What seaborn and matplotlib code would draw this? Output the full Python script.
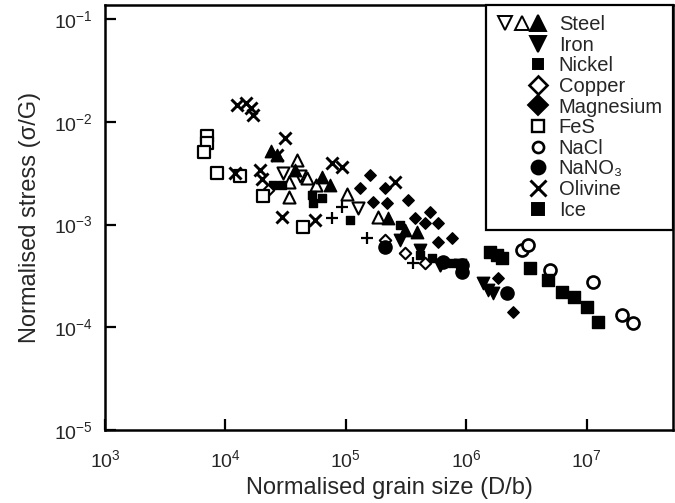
import numpy as np
import pandas as pd
import matplotlib
matplotlib.use('Agg')
import matplotlib.pyplot as plt
import seaborn as sns
from matplotlib.lines import Line2D
from matplotlib.legend_handler import HandlerTuple

# values: normalised grain size D/b and normalised stress sigma/G
steel_open_down_x = [3.0e4, 4.15e4, 1.26e5, 6.0e5]
steel_open_down_y = [3.17e-3, 3.0e-3, 1.45e-3, 4.0e-4]
steel_open_up_x = [3.9e4, 3.4e4, 3.4e4, 4.8e4, 5.7e4, 1.02e5, 1.85e5]
steel_open_up_y = [4.25e-3, 2.6e-3, 1.85e-3, 2.84e-3, 2.4e-3, 2.0e-3, 1.18e-3]
steel_filled_x = [2.67e4, 2.39e4, 3.77e4, 6.3e4, 7.4e4, 2.23e5, 3.09e5, 3.88e5]
steel_filled_y = [4.7e-3, 5.2e-3, 3.4e-3, 2.9e-3, 2.4e-3, 1.16e-3, 8.8e-4, 8.4e-4]
iron_x = [1.37e6, 1.51e6, 1.66e6, 8.8e5, 4.1e5, 2.8e5]
iron_y = [2.7e-4, 2.3e-4, 2.15e-4, 4.0e-4, 5.65e-4, 7.1e-4]
nickel_x = [2.48e4, 2.94e4, 5.2e4, 6.3e4, 1.08e5, 5.3e4, 2.8e5, 4.1e5, 7.6e5, 5.2e5]
nickel_y = [2.4e-3, 2.4e-3, 1.94e-3, 1.81e-3, 1.1e-3, 1.62e-3, 9.9e-4, 5.0e-4, 4.2e-4, 4.7e-4]
copper_x = [3.09e5, 4.5e5, 2.25e4, 2.1e5]
copper_y = [5.3e-4, 4.2e-4, 2.17e-3, 7.1e-4]
magnesium_x = [1.58e5, 1.31e5, 2.1e5, 3.27e5, 1.67e5, 2.19e5, 4.98e5, 3.74e5,
               5.8e5, 4.5e5, 7.6e5, 5.8e5, 1.82e6, 2.43e6]
magnesium_y = [3.03e-3, 2.27e-3, 2.27e-3, 1.73e-3, 1.66e-3, 1.62e-3, 1.32e-3, 1.16e-3,
               1.03e-3, 1.03e-3, 7.4e-4, 6.8e-4, 3.0e-4, 1.4e-4]
fes_x = [7.0e3, 7.0e3, 6.6e3, 8.5e3, 1.32e4, 2.05e4, 4.4e4]
fes_y = [7.3e-3, 6.2e-3, 5.1e-3, 3.2e-3, 3.0e-3, 1.9e-3, 9.5e-4]
nacl_x = [2.89e6, 3.24e6, 4.93e6, 1.12e7, 1.95e7, 2.41e7]
nacl_y = [5.65e-4, 6.3e-4, 3.6e-4, 2.75e-4, 1.31e-4, 1.1e-4]
nano3_x = [2.1e5, 6.4e5, 9.2e5, 9.2e5, 2.17e6]
nano3_y = [6.0e-4, 4.3e-4, 4.0e-4, 3.45e-4, 2.15e-4]
olivine_x = [1.24e4, 1.48e4, 1.63e4, 1.69e4, 3.12e4, 2.67e4, 1.2e4, 1.93e4, 2.0e4,
             2.94e4, 5.5e4, 7.7e4, 9.3e4, 2.55e5]
olivine_y = [1.46e-2, 1.52e-2, 1.36e-2, 1.16e-2, 6.95e-3, 4.7e-3, 3.2e-3, 3.4e-3, 2.8e-3,
             1.18e-3, 1.1e-3, 3.97e-3, 3.6e-3, 2.6e-3]
ice_x = [1.57e6, 1.79e6, 1.97e6, 3.37e6, 4.74e6, 6.2e6, 7.9e6, 1.0e7, 1.23e7]
ice_y = [5.4e-4, 5.05e-4, 4.7e-4, 3.8e-4, 2.9e-4, 2.2e-4, 1.97e-4, 1.57e-4, 1.12e-4]
other_x = [7.7e4, 1.49e5, 3.6e5, 9.3e4]
other_y = [1.16e-3, 7.4e-4, 4.2e-4, 1.48e-3]

legend_labels = ['Steel', 'Iron', 'Nickel', 'Copper', 'Magnesium', 'FeS', 'NaCl',
                 'NaNO\u2083', 'Olivine', 'Ice']

groups = [
    ('steel_od', steel_open_down_x, steel_open_down_y),
    ('steel_ou', steel_open_up_x, steel_open_up_y),
    ('steel_f', steel_filled_x, steel_filled_y),
    ('iron', iron_x, iron_y),
    ('nickel', nickel_x, nickel_y),
    ('copper', copper_x, copper_y),
    ('magnesium', magnesium_x, magnesium_y),
    ('fes', fes_x, fes_y),
    ('nacl', nacl_x, nacl_y),
    ('nano3', nano3_x, nano3_y),
    ('olivine', olivine_x, olivine_y),
    ('ice', ice_x, ice_y),
    ('other', other_x, other_y),
]
rows = []
for g, xs, ys in groups:
    for a, b in zip(xs, ys):
        rows.append((g, a, b))
df = pd.DataFrame(rows, columns=['group', 'D_b', 'stress'])

# marker, size, filled?, linewidth
styles = {
    'steel_od': ('v', 75, False, 1.5),
    'steel_ou': ('^', 75, False, 1.5),
    'steel_f': ('^', 80, True, 1),
    'iron': ('v', 80, True, 1),
    'nickel': ('s', 28, True, 1),
    'copper': ('D', 34, False, 1.5),
    'magnesium': ('D', 34, True, 1),
    'fes': ('s', 64, False, 1.6),
    'nacl': ('o', 75, False, 1.9),
    'nano3': ('o', 90, True, 1),
    'olivine': ('x', 75, True, 2.1),
    'ice': ('s', 80, True, 1),
    'other': ('+', 75, True, 1.6),
}

sns.set_style('ticks')
plt.rcParams['font.family'] = ['Liberation Sans', 'DejaVu Sans']
plt.rcParams['mathtext.fontset'] = 'custom'
plt.rcParams['mathtext.rm'] = 'Liberation Sans'
plt.rcParams['mathtext.it'] = 'Liberation Sans:italic'

fig = plt.figure(figsize=(6.75, 5.03), dpi=100)
ax = fig.add_axes([105 / 675, 73 / 503, 568 / 675, 425 / 503])

for g in df['group'].unique():
    marker, s, filled, lw = styles[g]
    sub = df[df['group'] == g]
    if marker in ('x', '+'):
        sns.scatterplot(data=sub, x='D_b', y='stress', marker=marker, s=s, color='black',
                        linewidth=lw, ax=ax, legend=False, zorder=3)
    elif filled:
        sns.scatterplot(data=sub, x='D_b', y='stress', marker=marker, s=s, color='black',
                        edgecolor='black', linewidth=lw, ax=ax, legend=False, zorder=3)
    else:
        sns.scatterplot(data=sub, x='D_b', y='stress', marker=marker, s=s, facecolor='white',
                        edgecolor='black', linewidth=lw, ax=ax, legend=False, zorder=3)

ax.set_xscale('log')
ax.set_yscale('log')
ax.set_xlim(1e3, 5.2e7)
ax.set_ylim(1e-5, 0.137)
ax.set_xticks([1e3, 1e4, 1e5, 1e6, 1e7])
ax.set_yticks([1e-5, 1e-4, 1e-3, 1e-2, 1e-1])
ax.minorticks_off()
ax.tick_params(axis='both', which='major', direction='in', length=8, width=1.6,
               labelsize=14, color='black')
ax.tick_params(axis='x', pad=14)
ax.tick_params(axis='y', pad=9)
for sp in ax.spines.values():
    sp.set_linewidth(1.8)
    sp.set_color('black')
ax.set_xlabel('Normalised grain size (D/b)', fontsize=17, labelpad=4)
ax.set_ylabel('Normalised stress (\u03c3/G)', fontsize=17, labelpad=9)


def mk(marker, ms, fc='black', mew=1.4):
    return Line2D([], [], linestyle='none', marker=marker, markersize=ms,
                  markerfacecolor=fc, markeredgecolor='black', markeredgewidth=mew, color='black')


blank = Line2D([], [], linestyle='none')
handles = [
    (mk('v', 10, 'white'), mk('^', 10, 'white'), mk('^', 11)),
    (blank, blank, mk('v', 12)),
    (blank, blank, mk('s', 7)),
    (blank, blank, mk('D', 9, 'white', 1.9)),
    (blank, blank, mk('D', 10)),
    (blank, blank, mk('s', 8, 'white', 1.7)),
    (blank, blank, mk('o', 8, 'white', 1.9)),
    (blank, blank, mk('o', 10)),
    (blank, blank, mk('x', 11, mew=2.1)),
    (blank, blank, mk('s', 9)),
]
leg = ax.legend(handles, legend_labels, handler_map={tuple: HandlerTuple(ndivide=None, pad=0)},
                loc='upper right', bbox_to_anchor=(1, 1), borderaxespad=0, frameon=True,
                fancybox=False, edgecolor='black', framealpha=1, fontsize=14.5,
                handlelength=2.5, handletextpad=0.6, labelspacing=0.08, borderpad=0.5)
leg.get_frame().set_linewidth(1.6)

fig.savefig('out.png', dpi=100)
